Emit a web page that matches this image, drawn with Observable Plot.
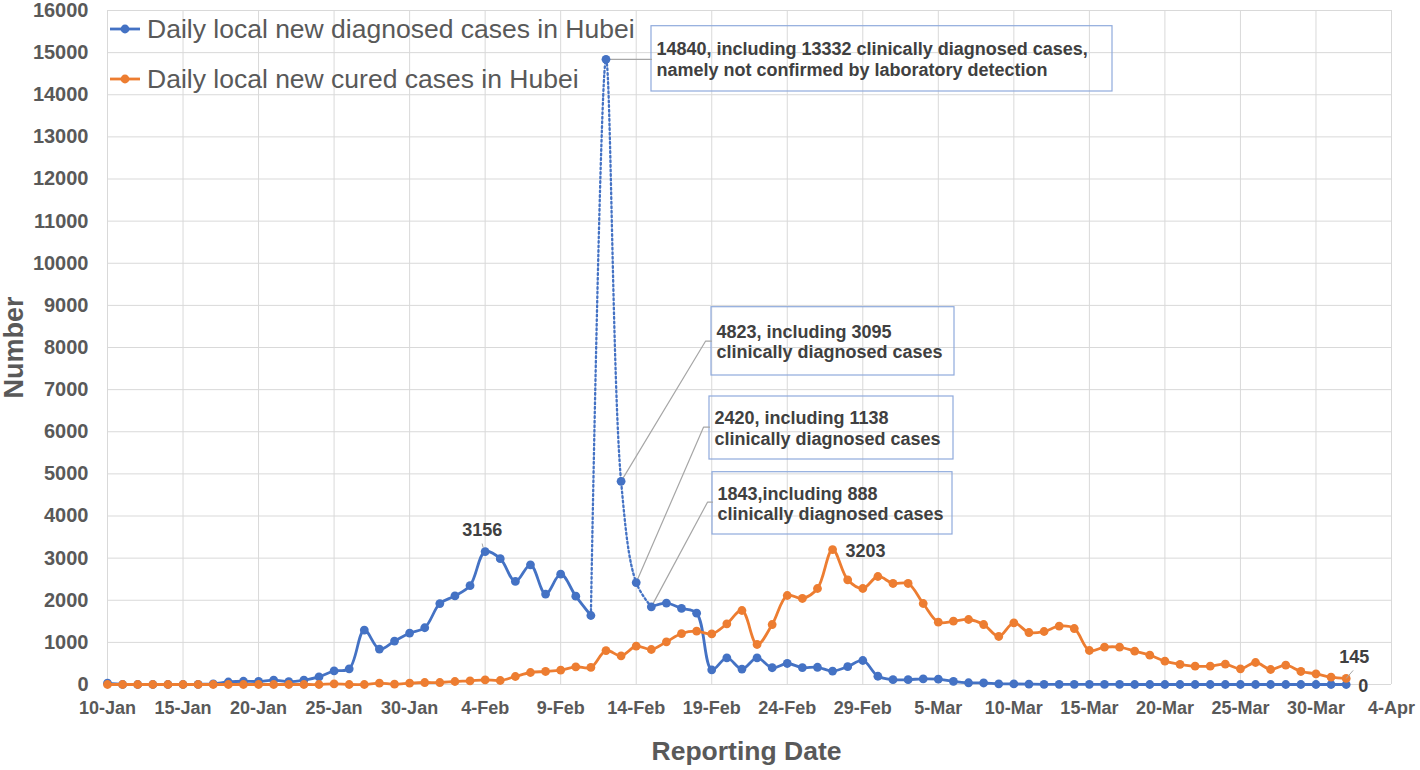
<!DOCTYPE html>
<html><head><meta charset="utf-8">
<script src="https://cdn.jsdelivr.net/npm/d3@7"></script>
<script src="https://cdn.jsdelivr.net/npm/@observablehq/plot@0.6"></script>
<style>
html,body{margin:0;padding:0;background:#fff;overflow:hidden}
#wrap{position:relative;width:1420px;height:770px}
#legend{position:absolute;left:108px;top:4px;font-family:"Liberation Sans",Arial,sans-serif;font-size:26.5px;color:#595959;line-height:50px}
#legend .row{display:flex;align-items:center;height:50px;white-space:nowrap}
#legend svg{margin-right:5px}
</style></head><body><div id="wrap"><div id="legend"></div></div>
<script>
// ---------- data ----------
const startDate = "2020-01-10";
const seriesNames = ["Daily local new diagnosed cases in Hubei", "Daily local new cured cases in Hubei"];
// Jan 10 .. Apr 1 (83 days)
const diagnosed = [
  30, 0, 0, 0, 0, 0, 4, 17, 59, 77, 72, 105, 69, 105, 180, 323, 371, 1291, 840, 1032, 1220, 1347,
  1921, 2103, 2345, 3156, 2987, 2447, 2841, 2147, 2618, 2097, 1638, 14840, 4823, 2420, 1843, 1933, 1807, 1693,
  349, 631, 366, 630, 398, 499, 401, 409, 318, 423, 570,
  196, 114, 115, 134, 126, 74, 41, 36, 17, 13, 8, 5, 4, 4, 4, 1, 1, 0, 0, 0, 0, 0, 0, 0, 0, 0, 0, 0, 0, 0, 0,
  0
];
const cured = [
  0, 0, 0, 0, 0, 0, 0, 0, 0, 0, 0, 0, 0, 0, 0, 15, 0, 0, 31, 7, 31, 47,
  47, 71, 88, 111, 95, 190, 285, 309, 340, 420, 405, 805, 681, 910, 831, 1013, 1210, 1265,
  1200, 1440, 1757, 950, 1424, 2113, 2042, 2279, 3203, 2485, 2279,
  2564, 2398, 2398, 1923, 1480, 1503, 1543, 1424, 1140, 1464, 1234, 1258, 1385, 1329, 807, 886, 886, 791, 695, 554, 480, 435, 435, 483, 372, 522, 356, 459, 309, 253, 174,
  145
];
const xTickLabels = ["10-Jan","15-Jan","20-Jan","25-Jan","30-Jan","4-Feb","9-Feb","14-Feb","19-Feb","24-Feb","29-Feb","5-Mar","10-Mar","15-Mar","20-Mar","25-Mar","30-Mar","4-Apr"];
const yTicks = [0,1000,2000,3000,4000,5000,6000,7000,8000,9000,10000,11000,12000,13000,14000,15000,16000];
const xTitle = "Reporting Date";
const yTitle = "Number";
const annotationDates = ["2020-02-12","2020-02-13","2020-02-14","2020-02-15"];
const annotationTexts = [
  "14840, including 13332 clinically diagnosed cases,\nnamely not confirmed by laboratory detection",
  "4823, including 3095\nclinically diagnosed cases",
  "2420, including 1138\nclinically diagnosed cases",
  "1843,including 888\nclinically diagnosed cases"
];
const dottedFrom = "2020-02-11", dottedTo = "2020-02-15";

// ---------- layout ----------
const W = 1420, H = 770, ML = 107, MR = 29, MT = 10, MB = 86;
const blue = "#4472C4", orange = "#ED7D31", grid = "#d9d9d9", axisText = "#595959", labelText = "#404040";
const annBoxPx = [
  {x1: 651, x2: 1112, y1: 25.7, y2: 91, elbow: null},
  {x1: 711, x2: 954, y1: 306.7, y2: 375, elbow: [705, 340.7]},
  {x1: 709, x2: 953, y1: 396, y2: 459, elbow: [703, 426.7]},
  {x1: 712, x2: 952, y1: 471.7, y2: 534, elbow: [707, 501.7]}
];

// ---------- build ----------
const parseTick = s => d3.utcParse("%d-%b-%Y")(s + "-2020");
const xTicks = xTickLabels.map(parseTick);
const xDomain = [xTicks[0], xTicks[xTicks.length - 1]];
const start = d3.utcParse("%Y-%m-%d")(startDate);
const rows = diagnosed.map((v, i) => ({date: d3.utcDay.offset(start, i), diagnosed: v, cured: cured[i]}));
const pd = s => +d3.utcParse("%Y-%m-%d")(s);
const iFrom = rows.findIndex(r => +r.date === pd(dottedFrom));
const iTo = rows.findIndex(r => +r.date === pd(dottedTo));
const seg1 = rows.slice(0, iFrom + 1), segDot = rows.slice(iFrom, iTo + 1), seg2 = rows.slice(iTo);

const xs = d3.scaleUtc(xDomain, [ML, W - MR]);
const ys = d3.scaleLinear([0, 16000], [H - MB, MT]);

const annotations = annotationDates.map((ds, k) => {
  const r = rows.find(r => +r.date === pd(ds));
  const b = annBoxPx[k];
  return {k, date: r.date, value: r.diagnosed, text: annotationTexts[k],
    x1: xs.invert(b.x1), x2: xs.invert(b.x2), y1: ys.invert(b.y2), y2: ys.invert(b.y1),
    ym: ys.invert((b.y1 + b.y2) / 2), b};
});
const leaders = [];
annotations.forEach(a => {
  leaders.push({k: a.k, x: a.date, y: a.value});
  if (a.b.elbow) {
    leaders.push({k: a.k, x: xs.invert(a.b.elbow[0]), y: ys.invert(a.b.elbow[1])});
    leaders.push({k: a.k, x: xs.invert(a.b.x1), y: ys.invert(a.b.elbow[1])});
  } else {
    leaders.push({k: a.k, x: xs.invert(a.b.x1), y: a.value});
  }
});

const peakD = rows.slice(0, iFrom + 1).reduce((a, b) => b.diagnosed > a.diagnosed ? b : a);
const peakC = rows.reduce((a, b) => b.cured > a.cured ? b : a);
const last = rows[rows.length - 1];

const font = "Liberation Sans, Arial, sans-serif";
const chart = Plot.plot({
  width: W, height: H, marginLeft: ML, marginRight: MR, marginTop: MT, marginBottom: MB,
  style: {fontFamily: font, background: "white"},
  x: {type: "utc", domain: xDomain},
  y: {domain: [0, 16000]},
  marks: [
    Plot.gridX(xTicks, {stroke: grid, strokeOpacity: 1, strokeWidth: 1}),
    Plot.gridY(yTicks, {stroke: grid, strokeOpacity: 1, strokeWidth: 1}),
    Plot.axisX(xTicks, {tickSize: 0, tickPadding: 17, fontSize: 18, fontWeight: "bold", fill: axisText,
      tickFormat: d => xTickLabels[xTicks.findIndex(t => +t === +d)], label: null}),
    Plot.axisY(yTicks, {tickSize: 0, tickPadding: 19, fontSize: 20, fontWeight: "bold", fill: axisText,
      tickFormat: d => String(d), label: null}),
    Plot.text([xTitle], {frameAnchor: "bottom", dy: 75, dx: -3, fontSize: 26.5, fontWeight: "bold", fill: axisText}),
    Plot.text([yTitle], {frameAnchor: "left", textAnchor: "middle", dx: -93, rotate: -90, fontSize: 27, fontWeight: "bold", fill: axisText}),
    // annotations
    Plot.rect(annotations, {x1: "x1", x2: "x2", y1: "y1", y2: "y2", fill: "none", stroke: "#8FAADC", strokeWidth: 1.2}),
    Plot.line(leaders, {x: "x", y: "y", z: "k", stroke: "#a6a6a6", strokeWidth: 1.2}),
    Plot.text(annotations, {x: "x1", y: "ym", text: "text", textAnchor: "start", lineAnchor: "middle", dx: 5,
      fontSize: 18, fontWeight: "bold", fill: labelText, lineHeight: 1.15}),
    // diagnosed
    Plot.line(seg1, {x: "date", y: "diagnosed", stroke: blue, strokeWidth: 2.8, curve: "catmull-rom"}),
    Plot.line(segDot, {x: "date", y: "diagnosed", stroke: blue, strokeWidth: 2.3, strokeDasharray: "1.8,2.8", curve: "catmull-rom"}),
    Plot.line(seg2, {x: "date", y: "diagnosed", stroke: blue, strokeWidth: 2.8, curve: "catmull-rom"}),
    Plot.dot(rows, {x: "date", y: "diagnosed", fill: blue, r: 4.4}),
    // cured
    Plot.line(rows, {x: "date", y: "cured", stroke: orange, strokeWidth: 2.8, curve: "catmull-rom"}),
    Plot.dot(rows, {x: "date", y: "cured", fill: orange, r: 4.4}),
    // data labels
    Plot.text([peakD], {x: "date", y: "diagnosed", text: d => String(d.diagnosed), dx: -3, dy: -21, fontSize: 18, fontWeight: "bold", fill: labelText}),
    Plot.link([peakD], {x1: d => xs.invert(xs(d.date) - 3), y1: d => ys.invert(ys(d.diagnosed) - 8), x2: d => xs.invert(xs(d.date) - 2), y2: d => ys.invert(ys(d.diagnosed) - 4), stroke: "#a6a6a6", strokeWidth: 1}),
    Plot.text([peakC], {x: "date", y: "cured", text: d => String(d.cured), textAnchor: "start", dx: 13, dy: 1.5, fontSize: 18, fontWeight: "bold", fill: labelText}),
    Plot.text([last], {x: "date", y: "cured", text: d => String(d.cured), dx: 8, dy: -21, fontSize: 18, fontWeight: "bold", fill: labelText}),
    Plot.text([last], {x: "date", y: "diagnosed", text: d => String(d.diagnosed), textAnchor: "start", dx: 12, dy: 1.5, fontSize: 18, fontWeight: "bold", fill: labelText}),
    Plot.link([last], {x1: "date", y1: "cured", x2: d => xs.invert(xs(d.date) + 7), y2: d => ys.invert(ys(d.cured) - 8), stroke: "#a6a6a6", strokeWidth: 1})
  ]
});
document.getElementById("wrap").prepend(chart);
chart.style.position = "absolute"; chart.style.left = "0"; chart.style.top = "0";

// legend
const leg = document.getElementById("legend");
[[seriesNames[0], blue], [seriesNames[1], orange]].forEach(([name, c]) => {
  const row = document.createElement("div"); row.className = "row";
  row.innerHTML = `<svg width="34" height="12"><line x1="2" x2="32" y1="6" y2="6" stroke="${c}" stroke-width="2.8"/><circle cx="17" cy="6" r="4.4" fill="${c}"/></svg><span>${name}</span>`;
  leg.appendChild(row);
});
</script>
</body></html>
